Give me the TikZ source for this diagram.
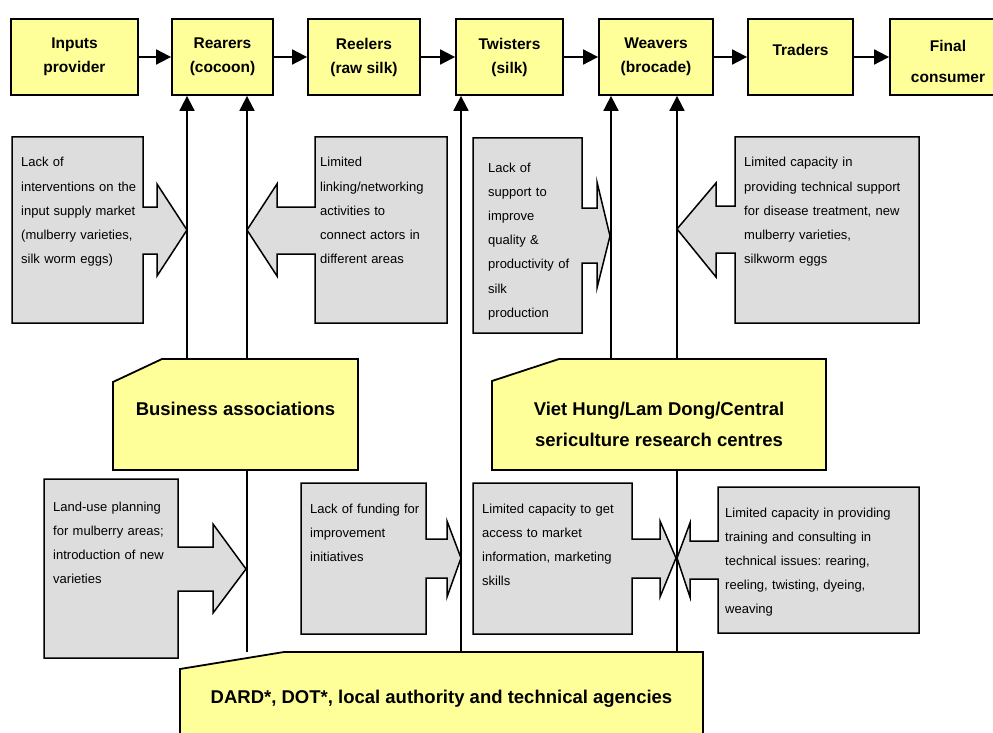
\documentclass[tikz,border=0pt]{standalone}
\usepackage{fontspec}
\setmainfont{Liberation Sans}
\usetikzlibrary{arrows.meta,backgrounds}
\definecolor{chainyellow}{HTML}{FFFF99}
\definecolor{gapgrey}{HTML}{DDDDDD}
\frenchspacing

\begin{document}
\begin{tikzpicture}[x=1pt,y=-1pt,>={Triangle[length=15pt,width=15pt]},
    line width=1.8pt,
    actor/.style={rectangle,draw,fill=chainyellow,minimum height=76pt,inner sep=0pt,
      align=center,font=\fontsize{15.5}{24}\bfseries\selectfont},
    support/.style={inner sep=0pt,outer sep=0pt,align=center,
      font=\fontsize{18.5}{31.7}\bfseries\selectfont},
    plate/.style={draw,fill=chainyellow},
    gap/.style={draw,fill=gapgrey,line width=1.5pt},
    gap text/.style={anchor=base west,inner sep=0pt,text width=#1,align=left,
      font=\fontsize{13}{24.2}\selectfont}]
    \useasboundingbox (0,0) rectangle (993,733);
    % value chain
    \node[actor,minimum width=127pt] (inp) at (74.5,57) {Inputs\\provider};
    \node[actor,minimum width=101pt] (rear) at (222.5,57) {Rearers\\(cocoon)};
    \node[actor,minimum width=112pt] (reel) at (364,57) {Reelers\\(raw silk)};
    \node[actor,minimum width=107pt] (twi) at (509.5,57) {Twisters\\(silk)};
    \node[actor,minimum width=114pt] (weav) at (656,57) {Weavers\\(brocade)};
    \node[actor,minimum width=105pt,text depth=14pt] (trad) at (800.5,57) {Traders};
    \node[actor,minimum width=116pt,text height=52pt,text depth=1.8pt,
      font=\fontsize{15.5}{30.6}\bfseries\selectfont] (cons) at (948,57) {Final\\consumer};
    \path[->] (inp) edge (rear)
    (rear) edge (reel)
    (reel) edge (twi)
    (twi) edge (weav)
    (weav) edge (trad)
    (trad) edge (cons);
    % supporters
    \node[support,minimum width=245pt,minimum height=111pt,text height=14pt,text depth=13pt]
      (ba) at (235.5,414.5) {Business associations};
    \node[support,minimum width=334pt,minimum height=111pt,text height=66pt,text depth=1.6pt]
      (vh) at (659,414.5) {Viet Hung/Lam Dong/Central\\sericulture research centres};
    \node[support,minimum width=523pt,minimum height=108pt,text height=14pt,text depth=19.4pt]
      (dard) at (441.5,706) {DARD*, DOT*, local authority and technical agencies};
    \begin{pgfonlayer}{background}
    \begin{scope}[line width=1.8pt]
      \coordinate (r1) at ([xshift=-35.5pt]rear.south);
      \coordinate (r2) at ([xshift=24.5pt]rear.south);
      \coordinate (t1) at ([xshift=-48.5pt]twi.south);
      \coordinate (w1) at ([xshift=-45pt]weav.south);
      \coordinate (w2) at ([xshift=21pt]weav.south);
      \draw[->] (ba.north -| r1) -- (r1);
      \draw[->] (dard.north -| r2) -- (r2);
      \draw[->] (dard.north -| t1) -- (t1);
      \draw[->] (vh.north -| w1) -- (w1);
      \draw[->] (dard.north -| w2) -- (w2);
      \draw[plate] (ba.south west) -- ([yshift=-23pt]ba.north west) -- ([xshift=49pt]ba.north west)
        -- (ba.north east) -- (ba.south east) -- cycle;
      \draw[plate] (vh.south west) -- ([yshift=-22pt]vh.north west) -- ([xshift=67pt]vh.north west)
        -- (vh.north east) -- (vh.south east) -- cycle;
      \draw[plate] (dard.south west) -- ([yshift=-17pt]dard.north west) -- ([xshift=104pt]dard.north west)
        -- (dard.north east) -- (dard.south east) -- cycle;
    \end{scope}
    \end{pgfonlayer}
    % constraints
    \draw[gap] (12,137) -- (143,137) -- (143,207) -- (157,207) -- (157,184) -- (187,230)
      -- (157,276) -- (157,254) -- (143,254) -- (143,323) -- (12,323) -- cycle;
    \node[gap text=125pt] (g1) at (21,167) {Lack of\\interventions on the\\input supply market\\(mulberry varieties,\\silk worm eggs)};
    \draw[gap] (447,137) -- (315,137) -- (315,207) -- (277,207) -- (277,184) -- (247,230)
      -- (277,276) -- (277,254) -- (315,254) -- (315,323) -- (447,323) -- cycle;
    \node[gap text=125pt] (g2) at (320,167) {Limited\\linking/networking\\activities to\\connect actors in\\different areas};
    \draw[gap] (473,138) -- (582,138) -- (582,208) -- (597,208) -- (597,182) -- (610,236)
      -- (597,288) -- (597,263) -- (582,263) -- (582,333) -- (473,333) -- cycle;
    \node[gap text=92pt] (g3) at (488,172) {Lack of\\support to\\improve\\quality \&\\productivity of\\silk\\production};
    \draw[gap] (919,137) -- (735,137) -- (735,206) -- (716,206) -- (716,183) -- (677,229)
      -- (716,277) -- (716,253) -- (735,253) -- (735,323) -- (919,323) -- cycle;
    \node[gap text=170pt] (g4) at (744,167) {Limited capacity in\\providing technical support\\for disease treatment, new\\mulberry varieties,\\silkworm eggs};
    \draw[gap] (44,479) -- (178,479) -- (178,547) -- (213,547) -- (213,524) -- (246,569)
      -- (213,613) -- (213,591) -- (178,591) -- (178,658) -- (44,658) -- cycle;
    \node[gap text=120pt] (g5) at (53,511) {Land-use planning\\for mulberry areas;\\introduction of new\\varieties};
    \draw[gap] (301,483) -- (426,483) -- (426,539) -- (447,539) -- (447,521) -- (461,558)
      -- (447,597) -- (447,578) -- (426,578) -- (426,634) -- (301,634) -- cycle;
    \node[gap text=115pt] (g6) at (310,513) {Lack of funding for\\improvement\\initiatives};
    \draw[gap] (473,483) -- (632,483) -- (632,539) -- (660,539) -- (660,521) -- (676,558)
      -- (660,597) -- (660,578) -- (632,578) -- (632,634) -- (473,634) -- cycle;
    \node[gap text=148pt] (g7) at (482,513) {Limited capacity to get\\access to market\\information, marketing\\skills};
    \draw[gap] (919,487) -- (718,487) -- (718,541) -- (690,541) -- (690,523) -- (677,558)
      -- (690,597) -- (690,579) -- (718,579) -- (718,633) -- (919,633) -- cycle;
    \node[gap text=190pt] (g8) at (725,517) {Limited capacity in providing\\training and consulting in\\technical issues: rearing,\\reeling, twisting, dyeing,\\weaving};
\end{tikzpicture}
\end{document}
